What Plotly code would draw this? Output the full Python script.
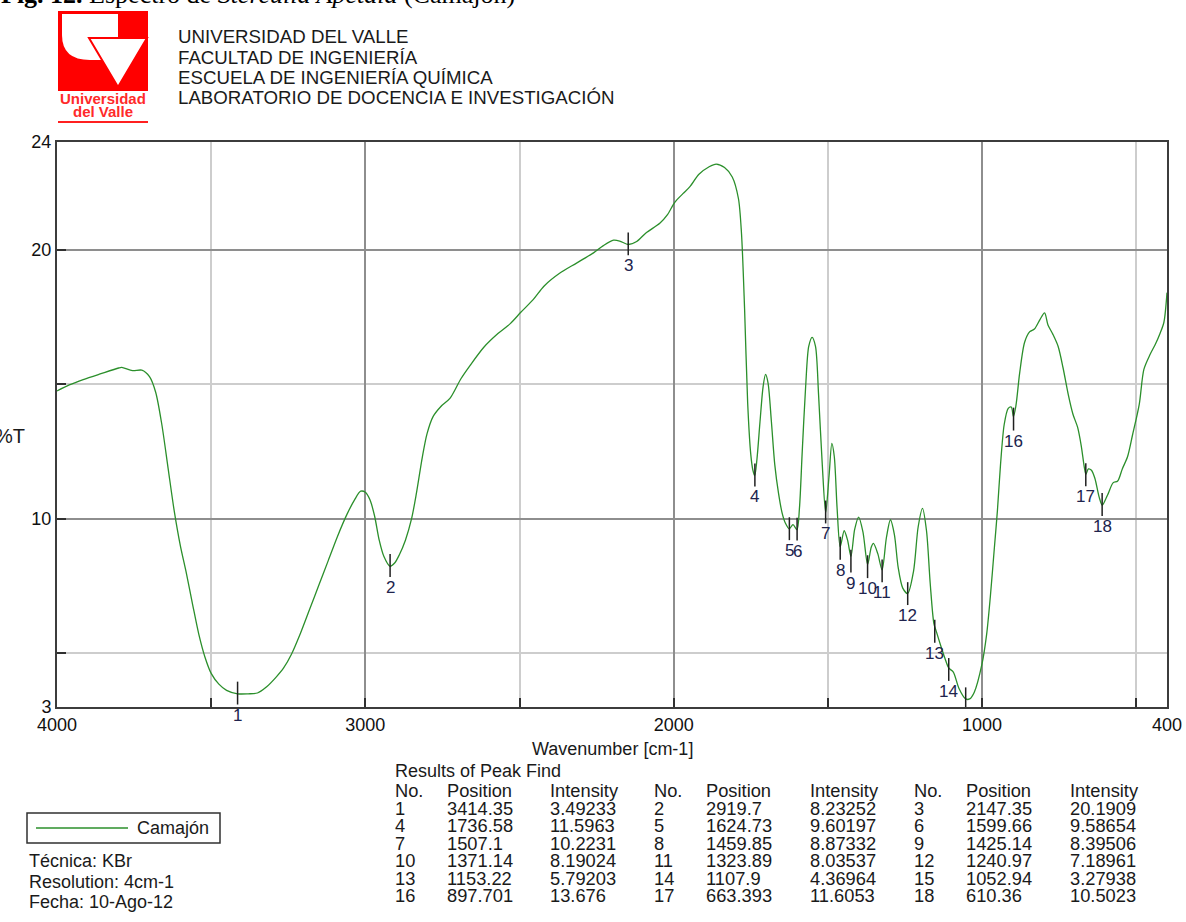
import plotly.graph_objects as go

# ---------------- spectrum data ----------------
wavenumber = [
    4000, 3960, 3915, 3860, 3800, 3790, 3755, 3725, 3700, 3680, 3660, 3640, 3620, 3600,
    3580, 3560, 3540, 3520, 3500, 3475, 3450, 3414, 3380, 3350, 3320, 3290, 3265, 3240,
    3210, 3180, 3150, 3120, 3090, 3060, 3035, 3015, 3000, 2985, 2970, 2955, 2940, 2920,
    2905, 2890, 2870, 2850, 2835, 2815, 2800, 2780, 2755, 2725, 2690, 2660, 2615, 2570,
    2530, 2495, 2455, 2420, 2370, 2315, 2260, 2228, 2195, 2175, 2147, 2120, 2090, 2045,
    2020, 1997, 1970, 1948, 1918, 1885, 1862, 1835, 1810, 1790, 1780, 1770, 1760, 1750,
    1743, 1737, 1730, 1720, 1710, 1702, 1694, 1683, 1672, 1660, 1648, 1637, 1625, 1613,
    1600, 1592, 1583, 1572, 1562, 1551, 1540, 1530, 1518, 1507, 1496, 1487, 1479, 1470,
    1460, 1447, 1436, 1425, 1413, 1400, 1386, 1371, 1359, 1352, 1338, 1324, 1310, 1297,
    1284, 1272, 1257, 1241, 1222, 1207, 1193, 1180, 1168, 1156, 1148, 1133, 1120, 1108,
    1093, 1075, 1053, 1040, 1025, 1000, 985, 973, 960, 950, 940, 928, 915, 905, 898,
    890, 878, 862, 845, 830, 812, 797, 786, 770, 753, 737, 720, 705, 690, 678, 668, 663,
    655, 645, 634, 620, 610, 598, 590, 575, 560, 545, 528, 512, 490, 475, 455, 437, 422,
    410, 400,
]
transmittance = [
    14.75, 14.97, 15.17, 15.38, 15.60, 15.62, 15.50, 15.52, 15.28, 14.70, 13.50, 11.90, 10.30, 9.00,
    7.95, 6.80, 5.70, 4.85, 4.25, 3.85, 3.62, 3.49, 3.49, 3.52, 3.75, 4.10, 4.45, 4.95,
    5.75, 6.65, 7.55, 8.45, 9.35, 10.15, 10.70, 11.02, 10.98, 10.70, 10.10, 9.20, 8.60, 8.23,
    8.35, 8.65, 9.20, 10.00, 10.90, 12.30, 13.15, 13.80, 14.17, 14.48, 15.20, 15.70, 16.38, 16.88,
    17.25, 17.68, 18.15, 18.65, 19.12, 19.50, 19.88, 20.15, 20.35, 20.32, 20.19, 20.30, 20.62, 20.98,
    21.30, 21.75, 22.08, 22.33, 22.80, 23.08, 23.18, 23.05, 22.70, 21.90, 20.60, 17.80, 14.30, 12.40,
    11.80, 11.60, 12.20, 13.60, 14.90, 15.36, 15.05, 13.60, 12.00, 10.95, 10.20, 9.82, 9.62, 9.78,
    9.59, 10.40, 12.50, 14.90, 16.40, 16.74, 16.40, 14.60, 12.00, 10.22, 11.60, 12.80, 12.30, 10.40,
    8.95, 9.55, 9.20, 8.60, 9.60, 10.06, 9.50, 8.30, 8.95, 9.08, 8.70, 8.10, 9.30, 9.96,
    9.40, 8.20, 7.42, 7.22, 8.05, 9.70, 10.38, 9.55, 7.60, 6.10, 5.80, 5.25, 4.80, 4.45,
    4.30, 3.70, 3.30, 3.30, 3.55, 4.60, 5.70, 7.10, 8.90, 10.30, 12.00, 13.50, 14.10, 14.15, 13.80,
    14.20, 15.40, 16.55, 16.95, 17.05, 17.40, 17.65, 17.20, 16.85, 16.40, 15.60, 14.60, 13.88, 13.40, 12.70, 11.90, 11.65,
    11.85, 11.80, 11.50, 10.80, 10.50, 10.75, 10.95, 11.33, 11.40, 11.85, 12.30, 13.10, 14.25, 15.55, 16.10, 16.50, 16.90,
    17.30, 18.40,
]

# ---------------- peak-find results ----------------
peak_no = list(range(1, 19))
peak_position = [3414.35, 2919.7, 2147.35, 1736.58, 1624.73, 1599.66, 1507.1, 1459.85, 1425.14,
                 1371.14, 1323.89, 1240.97, 1153.22, 1107.9, 1052.94, 897.701, 663.393, 610.36]
peak_intensity = [3.49233, 8.23252, 20.1909, 11.5963, 9.60197, 9.58654, 10.2231, 8.87332, 8.39506,
                  8.19024, 8.03537, 7.18961, 5.79203, 4.36964, 3.27938, 13.676, 11.6053, 10.5023]
peak_position_txt = ["3414.35", "2919.7", "2147.35", "1736.58", "1624.73", "1599.66", "1507.1", "1459.85",
                     "1425.14", "1371.14", "1323.89", "1240.97", "1153.22", "1107.9", "1052.94",
                     "897.701", "663.393", "610.36"]
peak_intensity_txt = ["3.49233", "8.23252", "20.1909", "11.5963", "9.60197", "9.58654", "10.2231",
                      "8.87332", "8.39506", "8.19024", "8.03537", "7.18961", "5.79203", "4.36964",
                      "3.27938", "13.676", "11.6053", "10.5023"]

x_tick_vals = [4000, 3000, 2000, 1000, 400]
x_minor_vals = [3500, 2500, 1500, 500]
y_tick_vals = [3, 10, 20, 24]
y_minor_vals = [5, 15]

header_lines = ["UNIVERSIDAD DEL VALLE", "FACULTAD DE INGENIERÍA",
                "ESCUELA DE INGENIERÍA QUÍMICA", "LABORATORIO DE DOCENCIA E INVESTIGACIÓN"]
info_lines = ["Técnica: KBr", "Resolution: 4cm-1", "Fecha: 10-Ago-12"]
series_name = "Camajón"

# ---------------- page geometry (pixels) ----------------
W, H = 1186, 922
PL, PR, PT, PB = 57, 1167, 142, 707
FONT = "Liberation Sans, Arial, sans-serif"
TXT = "#1a1a1a"
GREEN = "#2b8f2b"


def px(x):
    return (x - PL) / (PR - PL)


def py(y):
    return (PB - y) / (PB - PT)


fig = go.Figure()

fig.add_trace(go.Scatter(
    x=wavenumber, y=transmittance, mode="lines",
    line=dict(color=GREEN, width=1.3, shape="spline", smoothing=0.8),
    hoverinfo="skip", showlegend=False,
))

# short vertical markers at each found peak
mx, my = [], []
for p, inten in zip(peak_position, peak_intensity):
    mx += [p, p, None]
    my += [inten + 0.45, inten - 0.4, None]
fig.add_trace(go.Scatter(x=mx, y=my, mode="lines", line=dict(color="#202020", width=1.5),
                         hoverinfo="skip", showlegend=False, cliponaxis=False))

annotations = []
for n, p, inten in zip(peak_no, peak_position, peak_intensity):
    annotations.append(dict(x=p, y=inten - 0.4, xref="x", yref="y", text=str(n), showarrow=False,
                            xanchor="center", yanchor="top", borderpad=0,
                            font=dict(family=FONT, size=17, color="#20234d")))


def txt(x, y, s, size=18, anchor="left", color=TXT, family=FONT, yanchor="middle"):
    annotations.append(dict(x=px(x), y=py(y), xref="paper", yref="paper", text=s,
                            showarrow=False, xanchor=anchor, yanchor=yanchor,
                            font=dict(family=family, size=size, color=color)))


# title line at the very top of the page
txt(-1, 11, "<b>Fig. 12.</b> Espectro de <i>Sterculia Apetala</i> (Camajón)", size=26,
    family="Liberation Serif, Times New Roman, serif", color="#000000", yanchor="bottom")

# institution header
for i, line in enumerate(header_lines):
    txt(176, 37 + 20 * i, line, size=18.7)

# logo
shapes = []
RED = "#ff0000"
shapes.append(dict(type="rect", xref="paper", yref="paper", x0=px(58), x1=px(148), y0=py(91), y1=py(11),
                   fillcolor=RED, line=dict(width=0), layer="above"))
shapes.append(dict(type="path", xref="paper", yref="paper",
                   path=(f"M {px(62)},{py(14)} L {px(118)},{py(14)} L {px(118)},{py(60)} "
                         f"L {px(90)},{py(60)} Q {px(62)},{py(60)} {px(62)},{py(35)} Z"),
                   fillcolor="white", line=dict(width=0), layer="above"))
shapes.append(dict(type="path", xref="paper", yref="paper",
                   path=f"M {px(89)},{py(38)} L {px(147)},{py(38)} L {px(118)},{py(87)} Z",
                   fillcolor="white", line=dict(color=RED, width=2), layer="above"))
shapes.append(dict(type="line", xref="paper", yref="paper", x0=px(58), x1=px(148), y0=py(122), y1=py(122),
                   line=dict(color="#ff2020", width=2), layer="above"))
txt(103, 98, "<b>Universidad</b>", size=15, anchor="center", color="#ff2a2a")
txt(103, 112, "<b>del Valle</b>", size=15, anchor="center", color="#ff2a2a")

# axis titles
txt(27, 436, "%T", size=20, anchor="right")
txt(612, 749, "Wavenumber [cm-1]", size=18, anchor="center")

# peak table
col_x = [393, 445, 548, 652, 704, 808, 912, 964, 1068]
txt(393, 771, "Results of Peak Find", size=18)
for k, head in enumerate(["No.", "Position", "Intensity"] * 3):
    txt(col_x[k], 790, head, size=18.3)
for r in range(6):
    for c in range(3):
        i = r * 3 + c
        yy = 808 + 17.5 * r
        txt(col_x[3 * c], yy, str(peak_no[i]), size=18.3)
        txt(col_x[3 * c + 1], yy, peak_position_txt[i], size=18.3)
        txt(col_x[3 * c + 2], yy, peak_intensity_txt[i], size=18.3)

# legend box
shapes.append(dict(type="rect", xref="paper", yref="paper", x0=px(27), x1=px(220), y0=py(843), y1=py(813),
                   line=dict(color="#303030", width=1.5), fillcolor="rgba(0,0,0,0)"))
shapes.append(dict(type="line", xref="paper", yref="paper", x0=px(36), x1=px(128), y0=py(828), y1=py(828),
                   line=dict(color=GREEN, width=1.5)))
txt(135, 828, series_name, size=18)
for i, line in enumerate(info_lines):
    txt(27, 861 + 20.5 * i, line, size=18)

axis_common = dict(showline=True, linecolor="#3c3c3c", linewidth=2, mirror=True, zeroline=False,
                   automargin=False,
                   ticks="inside", ticklen=9, tickcolor="#303030", tickwidth=1.5,
                   showgrid=True, gridcolor="#8e8e8e", gridwidth=1.5,
                   tickfont=dict(family=FONT, size=18, color="#111111"))

fig.update_xaxes(range=[4000, 400], autorange=False, tickmode="array", tickvals=x_tick_vals,
                 ticktext=[str(v) for v in x_tick_vals],
                 minor=dict(tickmode="array", tickvals=x_minor_vals, showgrid=True, gridcolor="#cdcdcd",
                            gridwidth=1.5, ticks="inside", ticklen=9, tickcolor="#303030", tickwidth=1.5),
                 **axis_common)
fig.update_yaxes(range=[3, 24], autorange=False, tickmode="array", tickvals=y_tick_vals,
                 ticktext=[str(v) for v in y_tick_vals],
                 minor=dict(tickmode="array", tickvals=y_minor_vals, showgrid=True, gridcolor="#cdcdcd",
                            gridwidth=1.5, ticks="inside", ticklen=9, tickcolor="#303030", tickwidth=1.5),
                 **axis_common)

fig.update_layout(width=W, height=H, margin=dict(l=PL, r=W - PR, t=PT, b=H - PB, pad=0, autoexpand=False),
                  paper_bgcolor="white", plot_bgcolor="white", showlegend=False,
                  annotations=annotations, shapes=shapes)

fig.write_html("out.html")
